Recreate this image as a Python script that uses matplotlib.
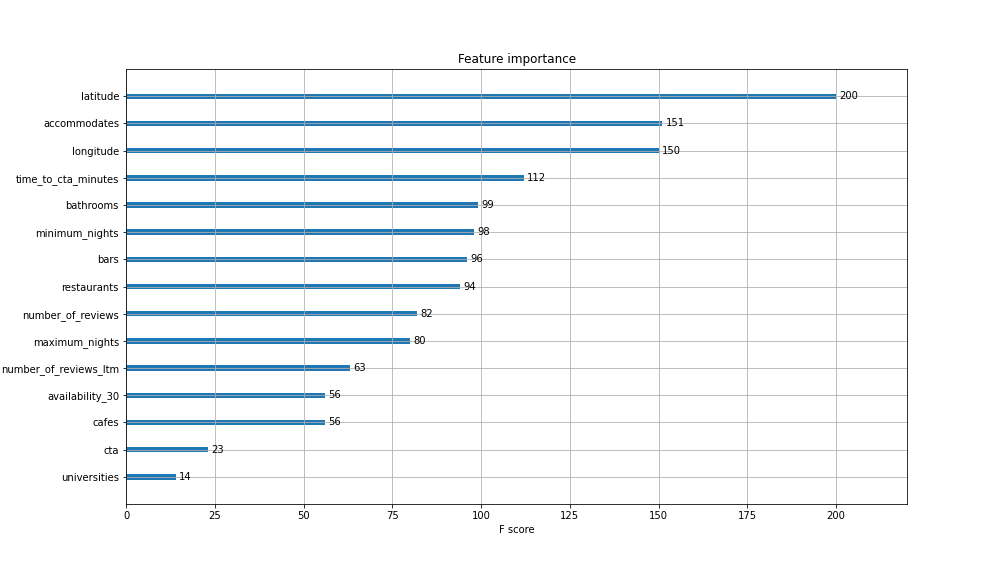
import matplotlib
matplotlib.use("Agg")
import matplotlib.pyplot as plt

features = ["universities", "cta", "cafes", "availability_30", "number_of_reviews_ltm",
            "maximum_nights", "number_of_reviews", "restaurants", "bars", "minimum_nights",
            "bathrooms", "time_to_cta_minutes", "longitude", "accommodates", "latitude"]
scores = [14, 23, 56, 56, 63, 80, 82, 94, 96, 98, 99, 112, 150, 151, 200]

fig, ax = plt.subplots(figsize=(14, 8), dpi=72)
fig.subplots_adjust(left=0.125, right=0.9, top=0.88, bottom=0.125)

ylocs = list(range(len(scores)))
ax.barh(ylocs, scores, height=0.2, align="center")
for x, y in zip(scores, ylocs):
    ax.text(x + 1, y, x, va="center")

ax.set_yticks(ylocs)
ax.set_yticklabels(features)
ax.set_xlim(0, max(scores) * 1.1)
ax.set_ylim(-1, len(scores))
ax.set_title("Feature importance")
ax.set_xlabel("F score")
ax.grid(True)

plt.savefig("out.png", dpi=72)
